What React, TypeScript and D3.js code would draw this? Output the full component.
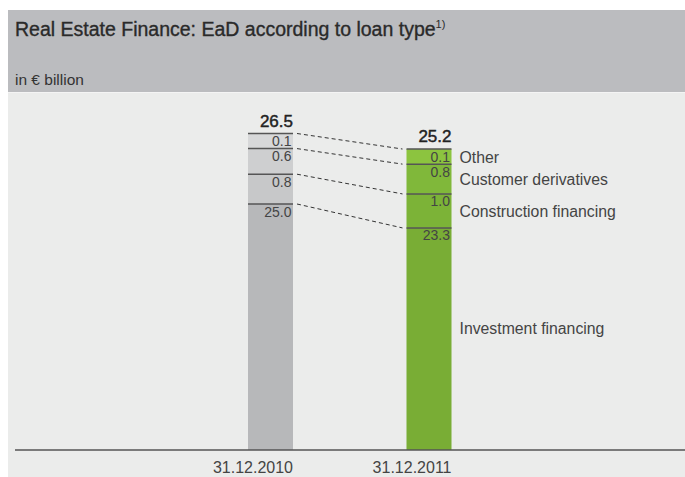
import { useEffect, useRef } from 'react';
import * as d3 from 'd3';

// EaD by loan type, € billion
const DATES = ["31.12.2010", "31.12.2011"];
const TOTALS = [26.5, 25.2];
const CATEGORIES = ["Other", "Customer derivatives", "Construction financing", "Investment financing"];
const VALUES_2010 = [0.1, 0.6, 0.8, 25.0];
const VALUES_2011 = [0.1, 0.8, 1.0, 23.3];

const GREY_FILLS = ["#d7d8d9", "#cecfd0", "#c7c8c9", "#b7b8ba"];
const GREEN_FILLS = ["#8cc43f", "#80b83a", "#7cb337", "#79ad35"];

const W = 685;
const H = 477;

export default function App() {
  const svgRef = useRef<SVGSVGElement>(null);

  useEffect(() => {
    const svg = d3.select(svgRef.current);
    svg.selectAll("*").remove();
    const font = "'Liberation Sans', Arial, sans-serif";
    const ink = "#444";

    // panel + header
    svg.append("rect").attr("x", 8).attr("y", 10).attr("width", W - 8).attr("height", H - 10).attr("fill", "#ebeceb");
    svg.append("rect").attr("x", 8).attr("y", 10).attr("width", W - 8).attr("height", 82).attr("fill", "#bbbcbf");
    svg.append("line").attr("x1", 8).attr("x2", W).attr("y1", 92.5).attr("y2", 92.5).attr("stroke", "#f4f4f4");

    const title = svg.append("text").attr("x", 15).attr("y", 36)
      .attr("font-family", font).attr("font-size", 19.5).attr("fill", "#2a2a2a")
      .attr("stroke", "#2a2a2a").attr("stroke-width", 0.35)
      .text("Real Estate Finance: EaD according to loan type");
    title.append("tspan").attr("font-size", 11).attr("dy", -8).attr("stroke-width", 0).text("1)");
    svg.append("text").attr("x", 15).attr("y", 85)
      .attr("font-family", font).attr("font-size", 15.5).attr("fill", "#333")
      .text("in € billion");

    const baseline = 450;
    const y = d3.scaleLinear().domain([0, 26.5]).range([baseline, baseline - 316.5]);
    // small segments are drawn enlarged, not to scale
    const seg = d3.scaleLinear().domain([0, 1]).range([13, 34]);
    const x = d3.scalePoint<string>().domain(DATES).range([270.5, 429]);
    const bw = 45;

    const series = [VALUES_2010, VALUES_2011];
    const fills = [GREY_FILLS, GREEN_FILLS];

    // segment tops, stacked from the total downwards
    const layouts = series.map((vals, i) => {
      const tops: number[] = [];
      let cur = y(TOTALS[i]);
      vals.forEach((v, j) => {
        tops.push(cur);
        if (j < vals.length - 1) cur += seg(v);
      });
      return tops;
    });

    series.forEach((vals, i) => {
      const x0 = x(DATES[i])! - bw / 2;
      const tops = layouts[i];
      const g = svg.append("g");
      vals.forEach((v, j) => {
        const bottom = j < vals.length - 1 ? tops[j + 1] : baseline;
        g.append("rect").attr("x", x0).attr("y", tops[j]).attr("width", bw)
          .attr("height", bottom - tops[j]).attr("fill", fills[i][j]);
      });
      vals.forEach((v, j) => {
        g.append("line").attr("x1", x0).attr("x2", x0 + bw).attr("y1", tops[j]).attr("y2", tops[j])
          .attr("stroke", "#555").attr("stroke-width", 1.5);
        g.append("text").attr("x", x0 + bw - 1.5).attr("y", tops[j] + 12.5)
          .attr("text-anchor", "end").attr("font-family", font).attr("font-size", 14).attr("fill", ink)
          .text(v.toFixed(1));
      });
      g.append("text").attr("x", x0 + bw).attr("y", y(TOTALS[i]) - 7)
        .attr("text-anchor", "end").attr("font-family", font).attr("font-size", 17)
        .attr("fill", "#222").attr("stroke", "#222").attr("stroke-width", 0.45)
        .text(TOTALS[i].toFixed(1));
      g.append("text").attr("x", x0 + bw).attr("y", 473)
        .attr("text-anchor", "end").attr("font-family", font).attr("font-size", 16).attr("fill", ink)
        .text(DATES[i]);
    });

    // dashed connectors
    const xa = x(DATES[0])! + bw / 2;
    const xb = x(DATES[1])! - bw / 2;
    layouts[0].forEach((t, j) => {
      svg.append("line").attr("x1", xa + 4).attr("x2", xb - 4).attr("y1", t).attr("y2", layouts[1][j])
        .attr("stroke", "#333").attr("stroke-width", 1).attr("stroke-dasharray", "4,3");
    });

    // category labels to the right of 2011 bar
    const lx = x(DATES[1])! + bw / 2 + 8;
    CATEGORIES.forEach((c, j) => {
      const top = layouts[1][j];
      const bottom = j < CATEGORIES.length - 1 ? layouts[1][j + 1] : baseline;
      const cy = j < CATEGORIES.length - 1 ? (top + bottom) / 2 + 6 : (top + bottom) / 2 - 4.5;
      svg.append("text").attr("x", lx).attr("y", cy)
        .attr("font-family", font).attr("font-size", 15.8).attr("fill", ink).text(c);
    });

    // baseline
    svg.append("line").attr("x1", 15).attr("x2", W).attr("y1", baseline).attr("y2", baseline)
      .attr("stroke", "#555").attr("stroke-width", 1.5);
  }, []);

  return (
    <svg ref={svgRef} width={W} height={H}
      style={{ position: "absolute", left: 0, top: 0, display: "block" }} />
  );
}
